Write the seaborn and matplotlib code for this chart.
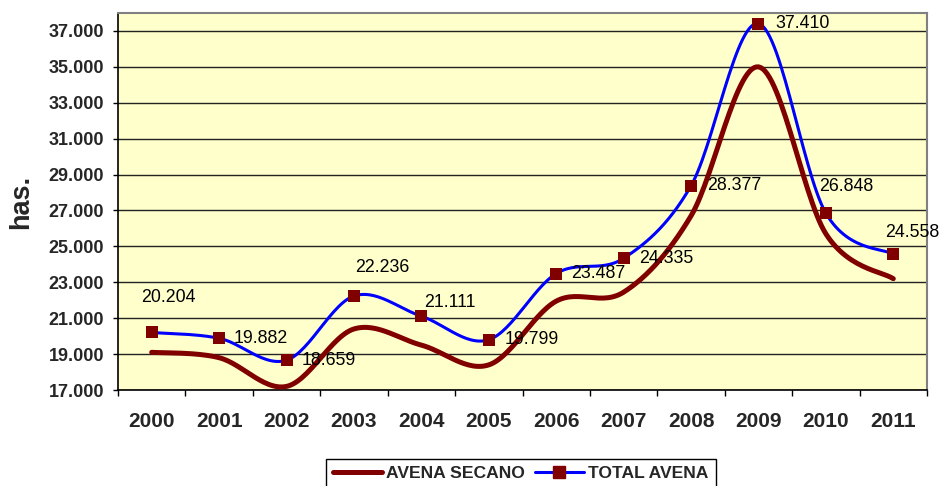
import numpy as np
import pandas as pd
import matplotlib
matplotlib.use("Agg")
import matplotlib.pyplot as plt
import seaborn as sns
from matplotlib.ticker import FuncFormatter, FixedLocator

# Datos (hectáreas)
anios = ["2000", "2001", "2002", "2003", "2004", "2005",
         "2006", "2007", "2008", "2009", "2010", "2011"]
avena_secano = [19100, 18800, 17200, 20400, 19500, 18400,
                21950, 22450, 26700, 35000, 25700, 23200]
total_avena = [20204, 19882, 18659, 22236, 21111, 19799,
               23487, 24335, 28377, 37410, 26848, 24558]

# desplazamiento de las etiquetas (pixeles)
offsets = [(17, 35), (42, 0), (42, 0), (28, 29), (29, 14), (43, 0),
           (42, 0), (43, 0), (43, 0), (44, 0), (20, 27), (19, 22)]


def suavizar(y, n=30):
    # curva suavizada tipo Excel (Bezier / Catmull-Rom)
    y = np.asarray(y, dtype=float)
    x = np.arange(len(y), dtype=float)
    xs, ys = [], []
    for i in range(len(y) - 1):
        p0 = np.array([x[max(i - 1, 0)], y[max(i - 1, 0)]])
        p1 = np.array([x[i], y[i]])
        p2 = np.array([x[i + 1], y[i + 1]])
        p3 = np.array([x[min(i + 2, len(y) - 1)], y[min(i + 2, len(y) - 1)]])
        c1 = p1 + (p2 - p0) / 6
        c2 = p2 - (p3 - p1) / 6
        t = np.linspace(0, 1, n, endpoint=(i == len(y) - 2))[:, None]
        pts = ((1 - t) ** 3) * p1 + 3 * ((1 - t) ** 2) * t * c1 + 3 * (1 - t) * t ** 2 * c2 + t ** 3 * p2
        xs.extend(pts[:, 0])
        ys.extend(pts[:, 1])
    return np.array(xs), np.array(ys)


sns.set_theme(style="white")
plt.rcParams['font.family'] = ['Liberation Sans', 'DejaVu Sans']

fig = plt.figure(figsize=(9.39, 4.86), dpi=100)
ax = fig.add_axes([118 / 939, 1 - 390 / 486, 809 / 939, 377 / 486])
ax.set_facecolor("#FFFFCC")

rojo = "#800000"
azul = "#0000FF"

xs, ys = suavizar(avena_secano)
df_sec = pd.DataFrame({"x": xs, "y": ys})
sns.lineplot(data=df_sec, x="x", y="y", ax=ax, color=rojo, linewidth=3.6,
             sort=False, zorder=3)

xt, yt = suavizar(total_avena)
df_tot = pd.DataFrame({"x": xt, "y": yt})
sns.lineplot(data=df_tot, x="x", y="y", ax=ax, color=azul, linewidth=2.2,
             sort=False, zorder=4)

df_pts = pd.DataFrame({"x": np.arange(len(anios)), "y": total_avena})
sns.scatterplot(data=df_pts, x="x", y="y", ax=ax, marker="s", s=80,
                color=rojo, edgecolor=rojo, linewidth=0, zorder=5)

for i, v in enumerate(total_avena):
    ax.annotate(f"{v:,}".replace(",", "."), (i, v),
                xytext=offsets[i], textcoords="offset pixels",
                ha="center", va="center", fontsize=12.8, color="black",
                zorder=6, annotation_clip=False)

ax.set_xlim(-0.5, len(anios) - 0.5)
ax.set_ylim(17000, 38000)

ax.set_yticks(np.arange(17000, 38000, 2000))
ax.yaxis.set_major_formatter(FuncFormatter(lambda v, p: f"{int(v):,}".replace(",", ".")))
ax.grid(axis="y", color="#222222", linewidth=1.0)
ax.set_axisbelow(True)

ax.set_xticks(range(len(anios)))
ax.set_xticklabels(anios)
ax.xaxis.set_minor_locator(FixedLocator(np.arange(-0.5, len(anios), 1)))
ax.tick_params(axis="x", which="major", length=0, pad=16, labelsize=15)
ax.tick_params(axis="x", which="minor", length=4.5, width=1, color="black",
               direction="out", bottom=True)
ax.tick_params(axis="y", which="major", length=3.6, width=1, color="black",
               direction="out", left=True, pad=6.5, labelsize=13)
for lab in ax.get_xticklabels() + ax.get_yticklabels():
    lab.set_fontweight("bold")

ax.set_xlabel("")
ax.set_ylabel("has.", fontsize=19.5, fontweight="bold")
ax.yaxis.set_label_coords(-0.104, 0.5)

for s in ["left", "bottom"]:
    ax.spines[s].set_color("black")
    ax.spines[s].set_linewidth(1.2)
for s in ["top", "right"]:
    ax.spines[s].set_color("#808080")
    ax.spines[s].set_linewidth(1.5)

h1 = plt.Line2D([], [], color=rojo, linewidth=3.6)
h2 = plt.Line2D([], [], color=azul, linewidth=2.2, marker="s", markersize=8,
                markerfacecolor=rojo, markeredgecolor=rojo)
leg = fig.legend([h1, h2], ["AVENA SECANO", "TOTAL AVENA"], ncol=2,
                 loc="upper left", bbox_to_anchor=(326 / 939, 1 - 459 / 486),
                 bbox_transform=fig.transFigure, frameon=True, fancybox=False,
                 edgecolor="black", framealpha=1,
                 prop={"weight": "bold", "size": 12.6}, handlelength=2.8,
                 handletextpad=0.25, columnspacing=0.55, borderpad=0.4,
                 borderaxespad=0)
leg.get_frame().set_linewidth(1.0)

fig.savefig("out.png", dpi=100, facecolor="white")
